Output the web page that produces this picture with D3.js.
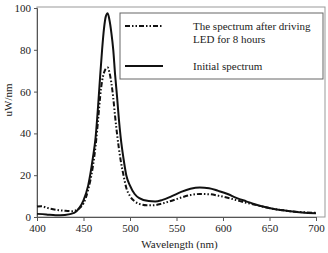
<!DOCTYPE html>
<html>
<head>
<meta charset="utf-8">
<script src="https://cdn.jsdelivr.net/npm/d3@7"></script>
<style>
  body { margin: 0; background: #fff; }
  text { font-family: "Liberation Serif", "Times New Roman", serif; fill: #222; }
</style>
</head>
<body>
<div id="chart"></div>
<script>
// wavelength (nm) and intensity (uW/nm)
const initialWl  = [400, 410, 420, 430, 440, 445, 450, 455, 460, 463, 466, 468, 470, 472, 474, 476, 478, 480, 482, 484, 486, 488, 490, 493, 496, 500, 505, 510, 520, 527, 535, 545, 555, 565, 575, 585, 595, 605, 615, 625, 635, 645, 655, 665, 675, 685, 700];
const initialVal = [1.5, 1.2, 0.8, 1, 2, 4, 8, 15, 28, 38, 55, 68, 80, 90, 96, 97.5, 94, 88, 80, 68, 58, 47, 38, 28, 20, 15, 11, 9, 7.6, 7.4, 8.2, 10, 12, 13.5, 14.1, 13.8, 12.5, 11, 9, 7.5, 6, 4.8, 3.8, 3.2, 2.6, 2.2, 1.8];

const agedWl  = [400, 405, 410, 420, 430, 438, 445, 450, 455, 460, 463, 466, 468, 470, 472, 474, 476, 478, 480, 482, 484, 486, 488, 490, 493, 496, 500, 505, 510, 518, 525, 535, 545, 555, 565, 575, 585, 595, 605, 615, 625, 635, 645, 655, 665, 675, 685, 700];
const agedVal = [5, 5.2, 4.5, 3.5, 3, 2.8, 4, 6.5, 13, 24, 34, 48, 58, 65, 69, 71, 71.5, 69, 64, 57, 48, 40, 33, 27, 20, 14, 10, 7.5, 6.3, 5.6, 5.6, 6.5, 7.8, 9.3, 10.5, 11, 10.9, 10.2, 9.2, 8, 6.8, 5.8, 4.7, 3.8, 3.2, 2.6, 2.3, 2];

const xTicks = [400, 450, 500, 550, 600, 650, 700];
const yTicks = [0, 20, 40, 60, 80, 100];
const legendLabels = [["The spectrum after driving", "LED for 8 hours"], ["Initial spectrum"]];

const W = 328, H = 253;
const margin = {top: 8, right: 12, bottom: 36, left: 37};
const width = W - margin.left - margin.right,
      height = H - margin.top - margin.bottom;

const svg = d3.select("#chart")
  .append("svg")
    .attr("width", W)
    .attr("height", H)
  .append("g")
    .attr("transform", `translate(${margin.left},${margin.top})`);

const x = d3.scaleLinear().domain([400, 700]).range([0, width]);
const y = d3.scaleLinear().domain([0, 100]).range([height, 0]);

// outer frame of plot area
svg.append("rect")
  .attr("x", 0).attr("y", -1)
  .attr("width", x(700) + 9).attr("height", height + 1)
  .attr("fill", "none").attr("stroke", "#999").attr("stroke-width", 1);

// axes
const xAxis = svg.append("g")
  .attr("transform", `translate(0,${height})`)
  .call(d3.axisBottom(x).tickValues(xTicks).tickSize(4).tickPadding(3));
const yAxis = svg.append("g")
  .call(d3.axisLeft(y).tickValues(yTicks).tickSize(3).tickPadding(3));
[xAxis, yAxis].forEach(a => {
  a.selectAll("path, line").attr("stroke", "#555");
  a.selectAll("text").style("font-size", "11px").attr("fill", "#333");
  a.attr("font-family", null);
});

// curves
const line = d3.line()
  .x(d => x(d[0]))
  .y(d => y(d[1]))
  .curve(d3.curveMonotoneX);

const aged = agedWl.map((w, i) => [w, agedVal[i]]);
const initial = initialWl.map((w, i) => [w, initialVal[i]]);

svg.append("path")
  .datum(aged)
  .attr("d", line)
  .attr("fill", "none")
  .attr("stroke", "#111")
  .attr("stroke-width", 2)
  .attr("stroke-dasharray", "5,2,1.5,2,1.5,2");

svg.append("path")
  .datum(initial)
  .attr("d", line)
  .attr("fill", "none")
  .attr("stroke", "#111")
  .attr("stroke-width", 2);

// legend
const lg = svg.append("g").attr("transform", `translate(${120 - margin.left},${13 - margin.top})`);
lg.append("rect")
  .attr("width", 203).attr("height", 66)
  .attr("fill", "#fff").attr("stroke", "#666").attr("stroke-width", 1);
lg.append("line")
  .attr("x1", 5).attr("x2", 43).attr("y1", 13).attr("y2", 13)
  .attr("stroke", "#111").attr("stroke-width", 2)
  .attr("stroke-dasharray", "5,2,1.5,2,1.5,2");
lg.append("line")
  .attr("x1", 5).attr("x2", 43).attr("y1", 53).attr("y2", 53)
  .attr("stroke", "#111").attr("stroke-width", 2);
legendLabels[0].forEach((t, i) => {
  lg.append("text").attr("x", 73).attr("y", 17 + i * 13).style("font-size", "11px").text(t);
});
lg.append("text").attr("x", 73).attr("y", 57).style("font-size", "11px").text(legendLabels[1][0]);

// axis titles
svg.append("text")
  .attr("x", width / 2 + 3).attr("y", height + 31)
  .attr("text-anchor", "middle")
  .style("font-size", "11px")
  .text("Wavelength (nm)");
svg.append("text")
  .attr("transform", `translate(${8 - margin.left},${100 - margin.top}) rotate(-90)`)
  .attr("text-anchor", "middle")
  .attr("dy", "0.35em")
  .style("font-size", "11px")
  .text("uW/nm");
</script>
</body>
</html>
